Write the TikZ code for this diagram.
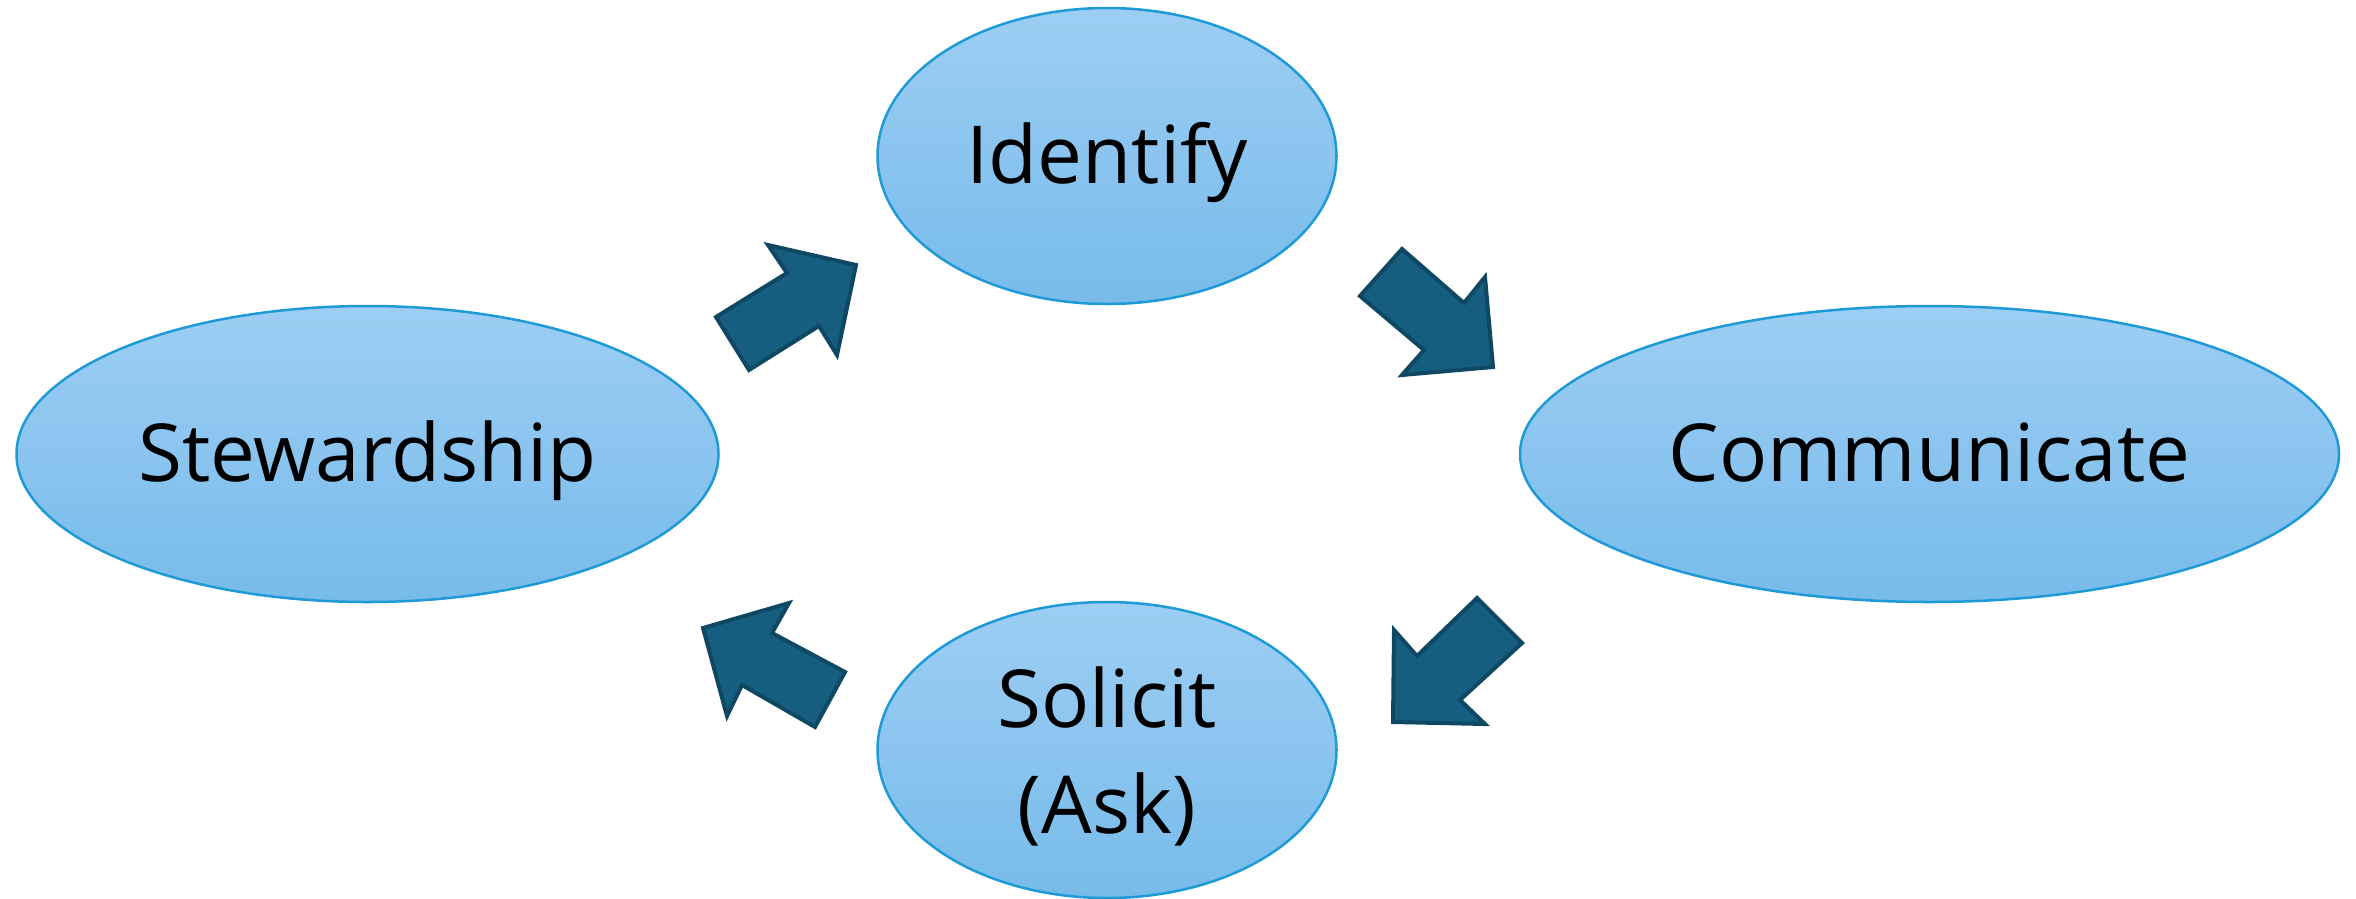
\documentclass[tikz,border=0pt]{standalone}
\usepackage{fontspec}
\setmainfont{Open Sans}
\usetikzlibrary{shapes.geometric}
\definecolor{ellTop}{HTML}{9DCEF4}
\definecolor{ellBot}{HTML}{77BBEA}
\definecolor{ellLine}{HTML}{1E9AD6}
\definecolor{arrFill}{HTML}{165E80}
\definecolor{arrLine}{HTML}{0E4862}
\tikzset{
  oval/.style={ellipse, draw=ellLine, line width=2.5pt, top color=ellTop, bottom color=ellBot,
    inner sep=0pt, align=center, font=\fontsize{80}{106}\selectfont},
  oneline/.style={text height=60pt, text depth=6pt},
  blockarrow/.style={fill=arrFill, draw=arrLine, line width=4pt, line join=miter}
}
\begin{document}
\begin{tikzpicture}[x=1pt,y=-1pt]
\useasboundingbox (0,0) rectangle (2356,898);
\node[oval, oneline, minimum width=459pt, minimum height=296pt] (identify) at (1107,156) {Identify};
\node[oval, oneline, minimum width=702pt, minimum height=296pt] (steward) at (367.5,454) {Stewardship};
\node[oval, oneline, minimum width=819pt, minimum height=296pt] (comm) at (1929.5,454) {Communicate};
\node[oval, minimum width=459pt, minimum height=296pt] (solicit) at (1107,750) {};
\node[font=\fontsize{80}{106}\selectfont, inner sep=0pt, anchor=base] (solA) at (1107,727) {Solicit};
\node[font=\fontsize{80}{106}\selectfont, inner sep=0pt, anchor=base] (solB) at (1107,833) {(Ask)};
% Stewardship -> Identify
\draw[blockarrow] (716,317) -- (787,273) -- (768,245) -- (856,265) -- (837,355) -- (819,326) -- (749,370) -- cycle;
% Identify -> Communicate
\draw[blockarrow] (1402,249) -- (1464,303) -- (1485,277) -- (1493,367) -- (1402,375) -- (1424,350) -- (1360,296) -- cycle;
% Communicate -> Solicit
\draw[blockarrow] (1522,643) -- (1460,700) -- (1485,724) -- (1393,722) -- (1394,630) -- (1417,656) -- (1477,598) -- cycle;
% Solicit -> Stewardship
\draw[blockarrow] (815,727) -- (742,685) -- (727,716) -- (703,628) -- (789,603) -- (772,633) -- (845,672) -- cycle;
\end{tikzpicture}
\end{document}
